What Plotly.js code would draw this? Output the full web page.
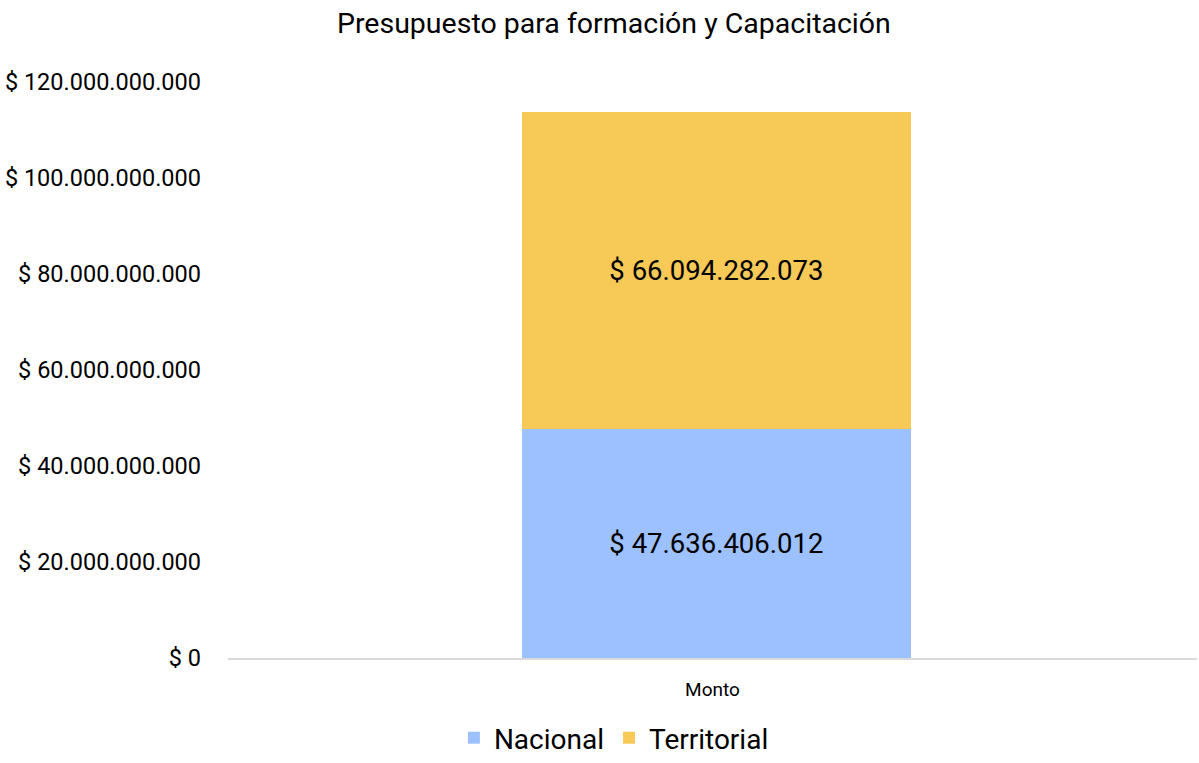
<!DOCTYPE html>
<html><head><meta charset="utf-8">
<script src="https://cdn.plot.ly/plotly-3.0.1.min.js"></script>
<style>html,body{margin:0;padding:0;background:#fff}#chart{width:1199px;height:763px}</style>
</head><body><div id="chart"></div>
<script>
const categories = ["Monto"];
const nacional = [47636406012];
const territorial = [66094282073];
const tickValues = [0, 20e9, 40e9, 60e9, 80e9, 100e9, 120e9];
const tickLabels = ["$ 0", "$ 20.000.000.000", "$ 40.000.000.000", "$ 60.000.000.000", "$ 80.000.000.000", "$ 100.000.000.000", "$ 120.000.000.000"];
const nacionalLabels = ["$ 47.636.406.012"];
const territorialLabels = ["$ 66.094.282.073"];

const font = "Roboto, 'Noto Sans', sans-serif";
const traces = [
  {type:'bar', name:'Nacional', x:categories, y:nacional, text:nacionalLabels, textposition:'inside', insidetextanchor:'middle', textangle:0,
   textfont:{size:27.5, color:'#000', family:font}, marker:{color:'#9DC0FF'}, width:0.402, offset:-0.197, hoverinfo:'none'},
  {type:'bar', name:'Territorial', x:categories, y:territorial, text:territorialLabels, textposition:'inside', insidetextanchor:'middle', textangle:0,
   textfont:{size:27.5, color:'#000', family:font}, marker:{color:'#F7C956'}, width:0.402, offset:-0.197, hoverinfo:'none'}
];
const layout = {
  width:1199, height:763, barmode:'stack',
  font:{family:font, color:'#000'},
  paper_bgcolor:'#fff', plot_bgcolor:'#fff',
  margin:{l:228, r:2, t:82, b:105, autoexpand:false},
  title:{text:'Presupuesto para formación y Capacitación', font:{size:28.5, family:font, color:'#000'}, x:0.512, xref:'container', y:0.97, yref:'container', yanchor:'middle'},
  xaxis:{showgrid:false, zeroline:false, showline:true, linecolor:'#D9D9D9', linewidth:2, ticks:'', tickfont:{size:19, family:font, color:'#000'}, ticklabelstandoff:13, automargin:false},
  yaxis:{range:[0,120e9], tickvals:tickValues, ticktext:tickLabels, showgrid:false, zeroline:false, showline:false, ticks:'', tickfont:{size:23.5, family:font, color:'#000'}, ticklabelstandoff:26, automargin:false},
  showlegend:true,
  legend:{orientation:'h', xref:'container', x:0.512, xanchor:'center', yref:'container', y:0, yanchor:'bottom', font:{size:28, family:font, color:'#000'}, traceorder:'normal'},
  uniformtext:{mode:false}
};
Plotly.newPlot('chart', traces, layout, {staticPlot:true, displayModeBar:false});
</script></body></html>
